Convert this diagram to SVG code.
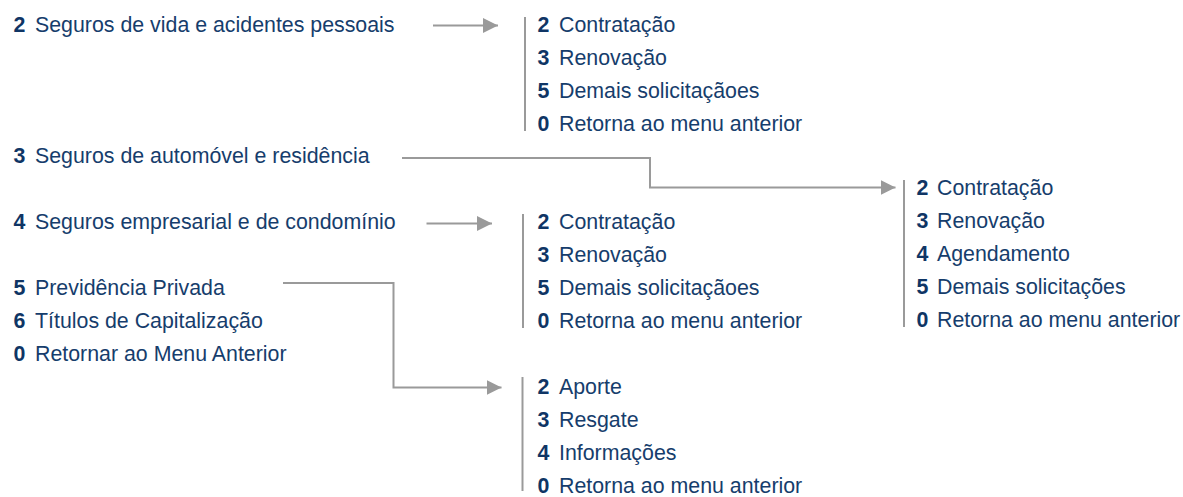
<svg xmlns="http://www.w3.org/2000/svg" width="1183" height="497" viewBox="0 0 1183 497">
<style>
text{font-family:"Liberation Sans",Arial,sans-serif;font-size:21.35px;fill:#163d6c}
.n{font-weight:bold;fill:#0f3565}
.vl{stroke:#9a9a9a;stroke-width:2;fill:none}
.ar{stroke:#9a9a9a;stroke-width:2;fill:none;marker-end:url(#ah)}
</style>
<defs>
<marker id="ah" markerUnits="userSpaceOnUse" markerWidth="16" markerHeight="16" refX="15" refY="7.5" orient="auto">
<path d="M0,0 L15,7.5 L0,15 z" fill="#9a9a9a"/>
</marker>
</defs>
<rect width="1183" height="497" fill="#ffffff"/>
<g id="menu-principal">
<g id="m2"><text class="n" x="13.5" y="32">2</text><text x="35" y="32">Seguros de vida e acidentes pessoais</text></g>
<g id="m3"><text class="n" x="13.5" y="163">3</text><text x="35" y="163">Seguros de automóvel e residência</text></g>
<g id="m4"><text class="n" x="13.5" y="229">4</text><text x="35" y="229">Seguros empresarial e de condomínio</text></g>
<g id="m5"><text class="n" x="13.5" y="295">5</text><text x="35" y="295">Previdência Privada</text></g>
<g id="m6"><text class="n" x="13.5" y="328">6</text><text x="35" y="328">Títulos de Capitalização</text></g>
<g id="m0"><text class="n" x="13.5" y="361">0</text><text x="35" y="361">Retornar ao Menu Anterior</text></g>
</g>
<g id="sub-vida">
<line class="vl" x1="525" y1="17" x2="525" y2="131"/>
<text class="n" x="537.5" y="32">2</text><text x="559" y="32">Contratação</text>
<text class="n" x="537.5" y="65">3</text><text x="559" y="65">Renovação</text>
<text class="n" x="537.5" y="98">5</text><text x="559" y="98">Demais solicitaçãoes</text>
<text class="n" x="537.5" y="131">0</text><text x="559" y="131">Retorna ao menu anterior</text>
</g>
<g id="sub-auto">
<line class="vl" x1="904" y1="180" x2="904" y2="327"/>
<text class="n" x="916.5" y="195">2</text><text x="937" y="195">Contratação</text>
<text class="n" x="916.5" y="228">3</text><text x="937" y="228">Renovação</text>
<text class="n" x="916.5" y="261">4</text><text x="937" y="261">Agendamento</text>
<text class="n" x="916.5" y="294">5</text><text x="937" y="294">Demais solicitações</text>
<text class="n" x="916.5" y="327">0</text><text x="937" y="327">Retorna ao menu anterior</text>
</g>
<g id="sub-empresarial">
<line class="vl" x1="523" y1="214" x2="523" y2="328"/>
<text class="n" x="537.5" y="229">2</text><text x="559" y="229">Contratação</text>
<text class="n" x="537.5" y="262">3</text><text x="559" y="262">Renovação</text>
<text class="n" x="537.5" y="295">5</text><text x="559" y="295">Demais solicitaçãoes</text>
<text class="n" x="537.5" y="328">0</text><text x="559" y="328">Retorna ao menu anterior</text>
</g>
<g id="sub-previdencia">
<line class="vl" x1="522.5" y1="377" x2="522.5" y2="491"/>
<text class="n" x="537.5" y="393.5">2</text><text x="559" y="393.5">Aporte</text>
<text class="n" x="537.5" y="426.5">3</text><text x="559" y="426.5">Resgate</text>
<text class="n" x="537.5" y="459.5">4</text><text x="559" y="459.5">Informações</text>
<text class="n" x="537.5" y="492.5">0</text><text x="559" y="492.5">Retorna ao menu anterior</text>
</g>
<g id="connectors">
<path class="ar" d="M433,25.5 H498"/>
<path class="ar" d="M402,158 H650 V187.5 H895.5"/>
<path class="ar" d="M426.5,223.5 H492"/>
<path class="ar" d="M283,283 H393.5 V387.5 H501.5"/>
</g>
</svg>
